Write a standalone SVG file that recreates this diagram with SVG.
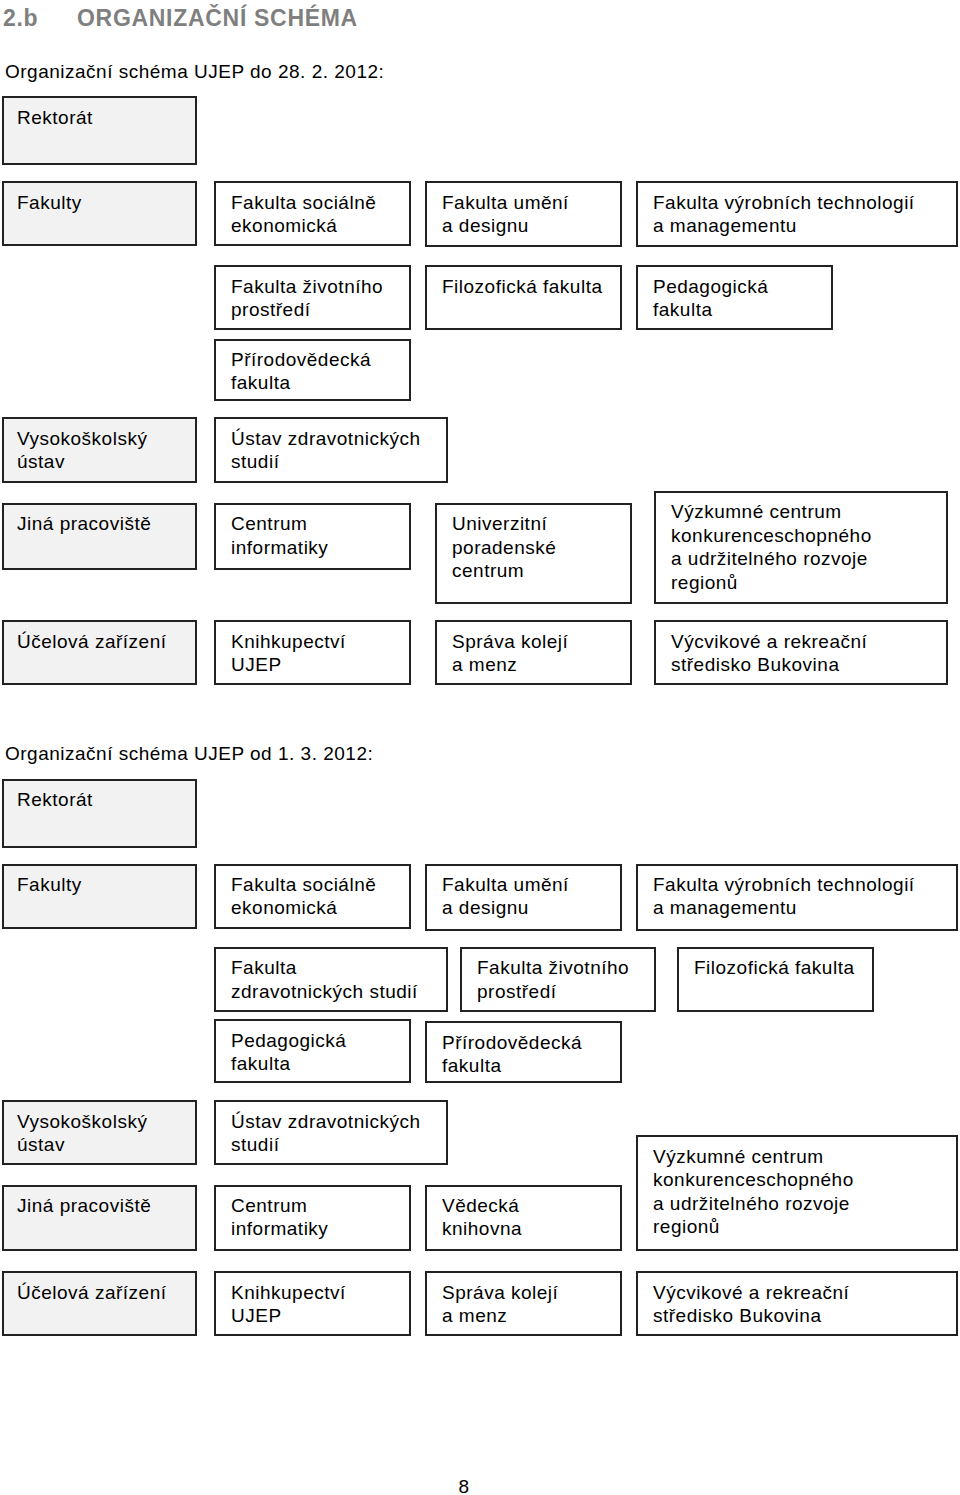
<svg xmlns="http://www.w3.org/2000/svg" width="960" height="1495" viewBox="0 0 960 1495">
<style>
text{font-family:"Liberation Sans",Arial,sans-serif;font-size:19px;letter-spacing:0.5px;fill:#000}
.title{font-size:23px;font-weight:bold;letter-spacing:0.7px;fill:#7f7f7f}
rect{stroke:#222;stroke-width:2}
.g{fill:#f2f2f2}
.w{fill:#fff}
</style>
<rect width="960" height="1495" fill="#fff" style="stroke:none"/>
<text class="title" x="3" y="26">2.b</text>
<text class="title" x="77" y="26">ORGANIZAČNÍ SCHÉMA</text>
<text x="5" y="78">Organizační schéma UJEP do 28. 2. 2012:</text>
<g id="connectors"/>
<g id="a-rektorat"><rect class="g" x="3" y="97" width="193" height="67"/><text x="17" y="124">Rektorát</text></g>
<g id="a-fakulty"><rect class="g" x="3" y="182" width="193" height="63"/><text x="17" y="209">Fakulty</text></g>
<g id="a-fse"><rect class="w" x="215" y="182" width="195" height="63"/><text x="231" y="209">Fakulta sociálně</text><text x="231" y="232">ekonomická</text></g>
<g id="a-fud"><rect class="w" x="426" y="182" width="195" height="64"/><text x="442" y="209">Fakulta umění</text><text x="442" y="232">a designu</text></g>
<g id="a-fvtm"><rect class="w" x="637" y="182" width="320" height="64"/><text x="653" y="209">Fakulta výrobních technologií</text><text x="653" y="232">a managementu</text></g>
<g id="a-fzp"><rect class="w" x="215" y="266" width="195" height="63"/><text x="231" y="293">Fakulta životního</text><text x="231" y="316">prostředí</text></g>
<g id="a-ff"><rect class="w" x="426" y="266" width="195" height="63"/><text x="442" y="293">Filozofická fakulta</text></g>
<g id="a-pf"><rect class="w" x="637" y="266" width="195" height="63"/><text x="653" y="293">Pedagogická</text><text x="653" y="316">fakulta</text></g>
<g id="a-prf"><rect class="w" x="215" y="340" width="195" height="60"/><text x="231" y="366">Přírodovědecká</text><text x="231" y="389">fakulta</text></g>
<g id="a-vu"><rect class="g" x="3" y="418" width="193" height="64"/><text x="17" y="445">Vysokoškolský</text><text x="17" y="468">ústav</text></g>
<g id="a-uzs"><rect class="w" x="215" y="418" width="232" height="64"/><text x="231" y="445">Ústav zdravotnických</text><text x="231" y="468">studií</text></g>
<g id="a-jp"><rect class="g" x="3" y="504" width="193" height="65"/><text x="17" y="530">Jiná pracoviště</text></g>
<g id="a-ci"><rect class="w" x="215" y="504" width="195" height="65"/><text x="231" y="530">Centrum</text><text x="231" y="554">informatiky</text></g>
<g id="a-upc"><rect class="w" x="436" y="504" width="195" height="99"/><text x="452" y="530">Univerzitní</text><text x="452" y="554">poradenské</text><text x="452" y="577">centrum</text></g>
<g id="a-vc"><rect class="w" x="655" y="492" width="292" height="111"/><text x="671" y="518">Výzkumné centrum</text><text x="671" y="542">konkurenceschopného</text><text x="671" y="565">a udržitelného rozvoje</text><text x="671" y="589">regionů</text></g>
<g id="a-uz"><rect class="g" x="3" y="621" width="193" height="63"/><text x="17" y="648">Účelová zařízení</text></g>
<g id="a-kn"><rect class="w" x="215" y="621" width="195" height="63"/><text x="231" y="648">Knihkupectví</text><text x="231" y="671">UJEP</text></g>
<g id="a-skm"><rect class="w" x="436" y="621" width="195" height="63"/><text x="452" y="648">Správa kolejí</text><text x="452" y="671">a menz</text></g>
<g id="a-vrs"><rect class="w" x="655" y="621" width="292" height="63"/><text x="671" y="648">Výcvikové a rekreační</text><text x="671" y="671">středisko Bukovina</text></g>

<text x="5" y="760">Organizační schéma UJEP od 1. 3. 2012:</text>
<g id="b-rektorat"><rect class="g" x="3" y="780" width="193" height="67"/><text x="17" y="806">Rektorát</text></g>
<g id="b-fakulty"><rect class="g" x="3" y="865" width="193" height="63"/><text x="17" y="891">Fakulty</text></g>
<g id="b-fse"><rect class="w" x="215" y="865" width="195" height="63"/><text x="231" y="891">Fakulta sociálně</text><text x="231" y="914">ekonomická</text></g>
<g id="b-fud"><rect class="w" x="426" y="865" width="195" height="65"/><text x="442" y="891">Fakulta umění</text><text x="442" y="914">a designu</text></g>
<g id="b-fvtm"><rect class="w" x="637" y="865" width="320" height="65"/><text x="653" y="891">Fakulta výrobních technologií</text><text x="653" y="914">a managementu</text></g>
<g id="b-fzs"><rect class="w" x="215" y="948" width="232" height="63"/><text x="231" y="974">Fakulta</text><text x="231" y="998">zdravotnických studií</text></g>
<g id="b-fzp"><rect class="w" x="461" y="948" width="194" height="63"/><text x="477" y="974">Fakulta životního</text><text x="477" y="998">prostředí</text></g>
<g id="b-ff"><rect class="w" x="678" y="948" width="195" height="63"/><text x="694" y="974">Filozofická fakulta</text></g>
<g id="b-pf"><rect class="w" x="215" y="1020" width="195" height="62"/><text x="231" y="1047">Pedagogická</text><text x="231" y="1070">fakulta</text></g>
<g id="b-prf"><rect class="w" x="426" y="1022" width="195" height="60"/><text x="442" y="1049">Přírodovědecká</text><text x="442" y="1072">fakulta</text></g>
<g id="b-vu"><rect class="g" x="3" y="1101" width="193" height="63"/><text x="17" y="1128">Vysokoškolský</text><text x="17" y="1151">ústav</text></g>
<g id="b-uzs"><rect class="w" x="215" y="1101" width="232" height="63"/><text x="231" y="1128">Ústav zdravotnických</text><text x="231" y="1151">studií</text></g>
<g id="b-jp"><rect class="g" x="3" y="1186" width="193" height="64"/><text x="17" y="1212">Jiná pracoviště</text></g>
<g id="b-ci"><rect class="w" x="215" y="1186" width="195" height="64"/><text x="231" y="1212">Centrum</text><text x="231" y="1235">informatiky</text></g>
<g id="b-vk"><rect class="w" x="426" y="1186" width="195" height="64"/><text x="442" y="1212">Vědecká</text><text x="442" y="1235">knihovna</text></g>
<g id="b-vc"><rect class="w" x="637" y="1136" width="320" height="114"/><text x="653" y="1163">Výzkumné centrum</text><text x="653" y="1186">konkurenceschopného</text><text x="653" y="1210">a udržitelného rozvoje</text><text x="653" y="1233">regionů</text></g>
<g id="b-uz"><rect class="g" x="3" y="1272" width="193" height="63"/><text x="17" y="1299">Účelová zařízení</text></g>
<g id="b-kn"><rect class="w" x="215" y="1272" width="195" height="63"/><text x="231" y="1299">Knihkupectví</text><text x="231" y="1322">UJEP</text></g>
<g id="b-skm"><rect class="w" x="426" y="1272" width="195" height="63"/><text x="442" y="1299">Správa kolejí</text><text x="442" y="1322">a menz</text></g>
<g id="b-vrs"><rect class="w" x="637" y="1272" width="320" height="63"/><text x="653" y="1299">Výcvikové a rekreační</text><text x="653" y="1322">středisko Bukovina</text></g>

<text x="464" y="1493" text-anchor="middle">8</text>
</svg>
